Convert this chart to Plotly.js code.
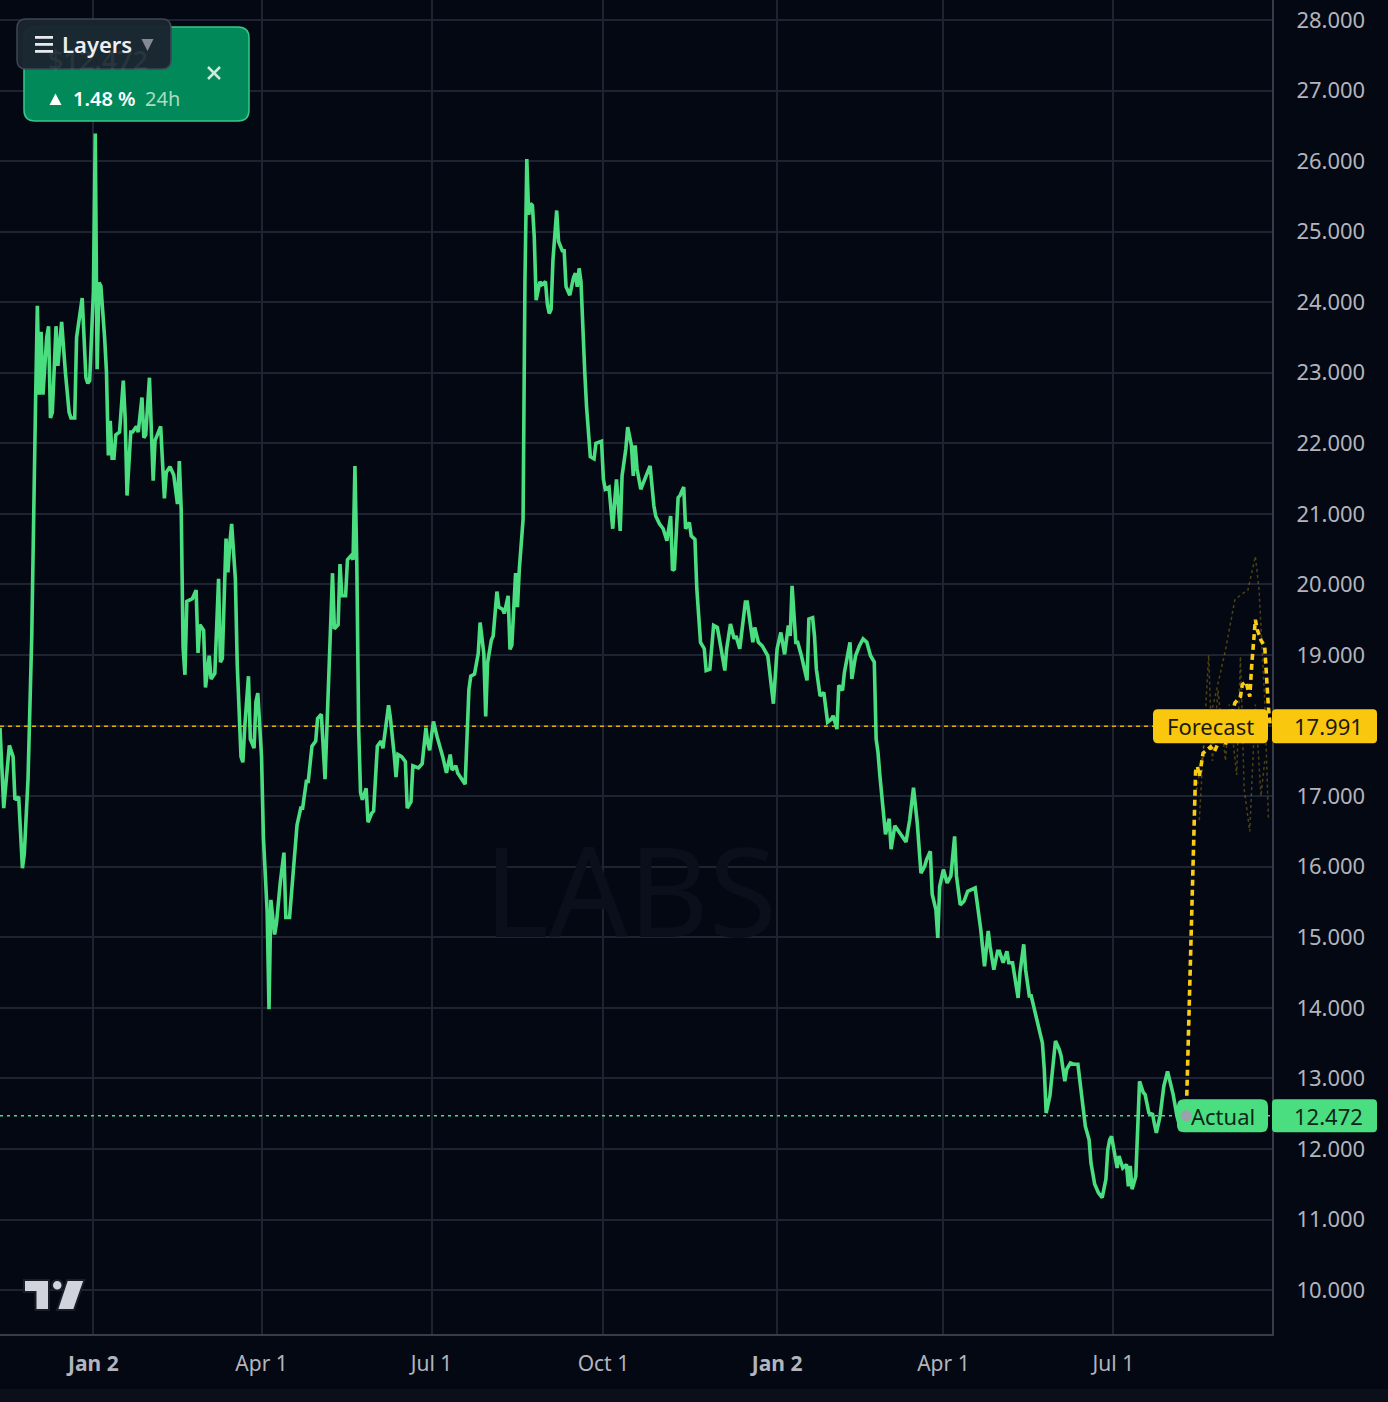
<!DOCTYPE html>
<html>
<head>
<meta charset="utf-8">
<script src="https://cdn.plot.ly/plotly-3.0.1.min.js"></script>
<style>
html,body{margin:0;padding:0;background:#040812;}
#chart{width:1388px;height:1402px;}
</style>
</head>
<body>
<div id="chart"></div>
<script>
// ---------------- DATA ----------------
const startDate = '2023-11-13';           // day 0 of the day offsets below
const priceDays = [0,2,5,7,8,10,12,13,15,17,19,20,21,22,23,25,26,27,28,30,31,33,35,37,38,40,41,44,46,47,48,50,51,52,53,54,56,57,58,59,60,61,62,64,66,67,68,70,71,73,74,76,77,78,80,82,83,85,86,88,89,91,93,95,96,97,98,99,100,103,105,106,107,109,110,112,113,115,117,118,119,121,122,123,124,126,127,129,130,131,133,134,136,137,138,140,141,143,144,145,147,148,150,152,153,155,157,159,161,
162,164,165,167,169,170,172,174,175,177,178,179,181,182,183,185,186,188,189,190,191,192,193,194,196,197,199,200,202,204,205,208,209,211,212,213,215,217,218,220,221,224,226,228,229,230,232,234,236,237,239,241,242,244,245,247,249,251,252,254,256,257,259,260,261,263,264,266,267,269,270,272,273,274,276,277,278,280,281,282,283,284,285,286,287,289,290,292,293,294,295,296,298,299,301,302,303,305,307,308,309,310,311,313,314,316,318,319,322,323,
324,326,327,328,329,330,332,333,335,336,338,339,340,341,343,344,346,348,350,351,353,355,357,359,360,361,363,364,366,367,369,370,372,373,375,377,378,380,382,384,386,388,389,391,393,394,396,399,400,402,403,404,406,408,410,411,414,416,418,420,422,423,424,426,427,429,432,433,435,436,437,439,441,443,445,446,448,449,451,452,455,456,458,460,462,464,466,468,469,470,471,473,474,476,477,479,481,483,485,
487,489,491,493,495,496,498,499,501,502,503,505,507,509,511,512,514,516,518,520,522,525,527,529,530,532,534,535,537,539,540,542,543,545,546,548,549,551,552,554,556,558,559,560,562,564,565,567,568,570,571,573,575,577,579,581,583,584,586,588,590,592,593,594,595,597,598,599,601,603,604,605,606,608,609,610,612,613,615,617,618,619,621,623,625,626,628,630,631,633,635];
const priceValues = [17.97,16.83,17.72,17.56,16.95,16.99,15.98,16.18,17.24,19.27,22.53,23.95,22.69,23.58,22.69,23.5,23.66,22.36,22.44,23.66,23.1,23.72,23.01,22.44,22.36,22.36,23.5,24.06,22.93,22.85,22.89,24.15,26.39,23.05,24.28,24.23,23.5,23.01,21.83,22.32,21.79,21.79,22.12,22.16,22.89,22.36,21.26,22.16,22.16,22.24,22.16,22.65,22.08,22.12,22.93,21.47,22.04,22.2,22.24,21.22,21.59,21.67,21.55,21.14,21.75,21.06,19.11,18.72,19.76,19.8,19.92,19.03,19.43,19.35,18.54,18.99,18.66,18.74,20.08,18.9,18.95,20.65,20.17,20.57,20.86,20.08,18.86,17.56,17.48,17.97,18.7,17.81,17.68,18.34,18.46,17.56,16.42,15.37,13.98,15.53,15.04,15.2,15.77,16.2,15.28,15.28,16.02,16.59,16.83,
16.83,17.21,17.21,17.71,17.78,18.1,18.16,17.24,17.94,19.21,20.16,19.37,19.43,20.29,19.84,19.84,20.35,20.41,20.35,21.68,20.29,17.94,17.05,16.95,17.11,16.63,16.76,16.79,17.71,17.78,17.68,18.29,18.1,17.59,17.27,17.59,17.56,17.49,16.83,16.92,17.43,17.4,17.46,17.97,17.75,17.65,18.06,17.84,17.68,17.56,17.33,17.59,17.37,17.43,17.33,17.24,17.17,18.51,18.7,18.73,19.02,19.46,19.02,18.13,18.89,19.21,19.27,19.9,19.68,19.65,19.59,19.84,19.08,19.14,20.16,19.68,20.22,20.92,24.29,26.03,25.24,25.4,25.37,24.92,24.03,24.29,24.25,24.29,23.97,23.84,23.9,24.6,25.3,24.86,24.73,24.73,24.22,24.1,24.35,24.41,24.22,24.48,24.29,23.02,22.51,21.81,21.78,22.0,22.03,21.49,
21.35,21.38,21.12,20.79,21.16,21.49,20.76,21.54,21.92,22.23,21.97,21.54,21.97,21.64,21.35,21.42,21.57,21.68,21.12,20.97,20.86,20.79,20.62,20.97,20.2,20.22,21.23,21.26,21.38,20.79,20.88,20.69,20.64,19.94,19.18,19.09,18.78,18.8,19.42,19.39,19.09,18.78,19.09,19.44,19.23,19.27,19.09,19.75,19.75,19.37,19.18,19.39,19.18,19.13,19.04,18.99,18.31,19.09,19.32,19.01,19.42,19.27,19.98,19.18,19.18,18.99,18.64,19.51,19.53,19.27,18.8,18.42,18.47,18.05,18.09,18.14,17.95,18.57,18.5,18.75,19.18,18.66,18.99,19.13,19.23,19.18,18.99,18.9,17.81,17.62,17.29,16.77,16.46,16.68,16.25,16.58,16.51,16.44,16.35,
16.67,17.12,16.62,15.91,16.01,16.1,16.22,15.61,15.39,14.99,15.72,15.96,15.77,15.87,16.43,15.87,15.46,15.51,15.65,15.68,15.7,15.11,14.59,15.09,14.87,14.54,14.8,14.8,14.64,14.8,14.64,14.64,14.45,14.14,14.5,14.9,14.54,14.17,14.17,13.93,13.74,13.5,13.13,12.51,12.75,13.22,13.53,13.41,13.32,12.96,13.13,13.22,13.2,13.2,12.75,12.32,12.13,11.8,11.5,11.38,11.31,11.57,11.99,12.13,12.18,11.85,11.73,11.9,11.73,11.78,11.47,11.76,11.43,11.61,12.42,12.96,12.8,12.77,12.51,12.49,12.35,12.23,12.47,12.89,13.1,12.98,12.77,12.47,12.37,12.44,12.472];

const forecastDays   = [635,636,637,638,639,640,641,642,644,646,648,650,653,656,658,661,664,665,667,669,670,671,672,673,675,677,678,679,680];
const forecastValues = [12.472,13.4,14.4,15.5,16.6,17.35,17.42,17.28,17.61,17.66,17.7,17.63,17.8,17.73,17.99,18.32,18.41,18.58,18.62,18.41,18.84,19.26,19.5,19.36,19.21,19.12,18.6,18.25,17.991];

const pathADays   = [640,645,650,656,661,664,668,672,674,677,679];
const pathAValues = [17.0,17.8,18.36,19.07,19.78,19.85,19.92,20.4,19.92,18.36,16.66];
const pathBDays   = [642,647,649,652,656,658,662,664,666,669,672,675,677];
const pathBValues = [16.66,19.0,17.5,18.5,17.5,18.3,17.3,18.98,17.1,16.5,18.3,17.0,17.5];

const actualValue   = 12.472;
const forecastValue = 17.991;
const xTickDates  = ['2024-01-02','2024-04-01','2024-07-01','2024-10-01','2025-01-02','2025-04-01','2025-07-01'];
const xTickLabels = ['Jan 2','Apr 1','Jul 1','Oct 1','Jan 2','Apr 1','Jul 1'];
const xTickYearStart = [true,false,false,false,true,false,false];
const cardPrice  = '$12.472';
const cardChange = '1.48 %';
const cardPeriod = '24h';

// ---------------- HELPERS ----------------
const DAY = 86400000;
const t0 = Date.parse(startDate + 'T00:00:00Z');
function toDate(d){ return new Date(t0 + d*DAY).toISOString().slice(0,19).replace('T',' '); }

const FIG_W = 1388, FIG_H = 1402;
const M = {l:0, r:116, t:0, b:68};
const PW = FIG_W - M.l - M.r, PH = FIG_H - M.t - M.b;
const Y_MIN = 9.378, Y_MAX = 28.283;
const X_END_DAYS = 680.9;
const px = x => x / PW;
const py = y => 1 - y / PH;
const yPix = v => PH * (1 - (v - Y_MIN) / (Y_MAX - Y_MIN));
function rr(x0,y0,x1,y1,r){
  return `M${px(x0+r)},${py(y0)} L${px(x1-r)},${py(y0)} Q${px(x1)},${py(y0)} ${px(x1)},${py(y0+r)} `+
         `L${px(x1)},${py(y1-r)} Q${px(x1)},${py(y1)} ${px(x1-r)},${py(y1)} `+
         `L${px(x0+r)},${py(y1)} Q${px(x0)},${py(y1)} ${px(x0)},${py(y1-r)} `+
         `L${px(x0)},${py(y0+r)} Q${px(x0)},${py(y0)} ${px(x0+r)},${py(y0)} Z`;
}
function poly(pts){ return 'M' + pts.map(p => px(p[0]) + ',' + py(p[1])).join(' L') + ' Z'; }

const FONT = '"Noto Sans", "Open Sans", sans-serif';
const GREEN = '#4ade80', YELLOW = '#f9c80e', BG = '#040812';
const fullRange = [toDate(0), toDate(X_END_DAYS)];

// ---------------- TRACES ----------------
const traces = [
  // price level lines (under the series)
  {x: fullRange, y:[forecastValue, forecastValue], type:'scatter', mode:'lines',
   line:{color:'#e0b208', width:1.6, dash:'4px,4px'}, hoverinfo:'skip'},
  {x: fullRange, y:[actualValue, actualValue], type:'scatter', mode:'lines',
   line:{color:GREEN, width:1.6, dash:'3px,4px'}, hoverinfo:'skip'},
  // faint alternative forecast paths
  {x: pathADays.map(toDate), y: pathAValues, type:'scatter', mode:'lines',
   line:{color:'rgba(249,200,14,0.30)', width:1.5, dash:'dot'}, hoverinfo:'skip'},
  {x: pathBDays.map(toDate), y: pathBValues, type:'scatter', mode:'lines',
   line:{color:'rgba(249,200,14,0.30)', width:1.5, dash:'dot'}, hoverinfo:'skip'},
  // actual price
  {x: priceDays.map(toDate), y: priceValues, type:'scatter', mode:'lines',
   line:{color:GREEN, width:3.6}, name:'Actual'},
  // forecast
  {x: forecastDays.map(toDate), y: forecastValues, type:'scatter', mode:'lines',
   line:{color:'#facc15', width:3.6, dash:'6px,4px'}, name:'Forecast'}
];

// ---------------- SHAPES ----------------
const yF = yPix(forecastValue), yA = yPix(actualValue);
const shapes = [
  // forecast label boxes
  {type:'path', xref:'paper', yref:'paper', path: rr(1153, yF-17, 1268, yF+17, 5), fillcolor:YELLOW, line:{width:0}, layer:'above'},
  {type:'path', xref:'paper', yref:'paper', path: rr(1272, yF-17, 1377, yF+17, 4), fillcolor:YELLOW, line:{width:0}, layer:'above'},
  // actual label boxes
  {type:'path', xref:'paper', yref:'paper', path: rr(1177, yA-16.5, 1268, yA+16.5, 7), fillcolor:GREEN, line:{width:0}, layer:'above'},
  {type:'path', xref:'paper', yref:'paper', path: rr(1272, yA-16.5, 1377, yA+16.5, 4), fillcolor:GREEN, line:{width:0}, layer:'above'},
  // grey dot at the last actual point
  {type:'circle', xref:'x', yref:'y', xsizemode:'pixel', ysizemode:'pixel',
   xanchor: toDate(priceDays[priceDays.length-1]), yanchor: actualValue,
   x0:-5.5, x1:5.5, y0:-5.5, y1:5.5, fillcolor:'#9ca1ab', line:{width:0}, layer:'above'},
  // top-left card
  {type:'path', xref:'paper', yref:'paper', path: rr(24,27,249,121,11), fillcolor:'#02895a', line:{color:'#36c88a', width:1.5}, layer:'above'},
  // close "x"
  {type:'line', xref:'paper', yref:'paper', x0:px(208), y0:py(67), x1:px(220), y1:py(79), line:{color:'#cfe8dc', width:2.5}, layer:'above'},
  {type:'line', xref:'paper', yref:'paper', x0:px(220), y0:py(67), x1:px(208), y1:py(79), line:{color:'#cfe8dc', width:2.5}, layer:'above'},
  // Layers button
  {type:'path', xref:'paper', yref:'paper', path: rr(17,19,171,69,9), fillcolor:'rgba(27,37,47,0.97)', line:{color:'#3d4756', width:1.5}, layer:'above'},
  {type:'rect', xref:'paper', yref:'paper', x0:px(35), x1:px(53), y0:py(36), y1:py(38.8), fillcolor:'#e6e8eb', line:{width:0}, layer:'above'},
  {type:'rect', xref:'paper', yref:'paper', x0:px(35), x1:px(53), y0:py(43), y1:py(45.8), fillcolor:'#e6e8eb', line:{width:0}, layer:'above'},
  {type:'rect', xref:'paper', yref:'paper', x0:px(35), x1:px(53), y0:py(50), y1:py(52.8), fillcolor:'#e6e8eb', line:{width:0}, layer:'above'},
  // dropdown triangle
  {type:'path', xref:'paper', yref:'paper', path: poly([[141.5,39],[153.5,39],[147.5,51]]), fillcolor:'#858b96', line:{width:0}, layer:'above'},
  // up triangle in the card
  {type:'path', xref:'paper', yref:'paper', path: poly([[49.5,105],[61.5,105],[55.5,93.5]]), fillcolor:'#ffffff', line:{width:0}, layer:'above'},
  // TradingView logo
  {type:'path', xref:'paper', yref:'paper', path: poly([[24,1280],[49,1280],[49,1310],[35.5,1310],[35.5,1292],[24,1292]]), fillcolor:'#d1d4dc', line:{color:'#1a1e28', width:2}, layer:'above'},
  {type:'circle', xref:'paper', yref:'paper', x0:px(52), x1:px(62.5), y0:py(1280), y1:py(1290.5), fillcolor:'#d1d4dc', line:{color:'#1a1e28', width:2}, layer:'above'},
  {type:'path', xref:'paper', yref:'paper', path: poly([[67,1280],[84.5,1280],[74,1310],[57,1310]]), fillcolor:'#d1d4dc', line:{color:'#1a1e28', width:2}, layer:'above'},
  // bottom strip
  {type:'rect', xref:'paper', yref:'paper', x0:0, x1:px(FIG_W), y0:py(1389), y1:py(FIG_H+2), fillcolor:'#0b0f1a', line:{width:0}, layer:'above'}
];

// ---------------- ANNOTATIONS ----------------
const ann = (x, y, text, size, color, extra) => Object.assign({
  xref:'paper', yref:'paper', x:px(x), y:py(y), text:text, showarrow:false,
  xanchor:'center', yanchor:'middle', font:{family:FONT, size:size, color:color}
}, extra || {});

const annotations = [
  ann(630, 888, 'LABS', 124, '#0a0f1b', {font:{family:FONT, size:124, color:'#0a0f1b', weight:400}}),
  ann(1210.5, yF, 'Forecast', 22, '#1d1a0c'),
  ann(1328, yF, forecastValue.toFixed(3), 22, '#1d1a0c'),
  ann(1223, yA, 'Actual', 22, '#10261a'),
  ann(1328, yA, actualValue.toFixed(3), 22, '#10261a'),
  ann(46, 60, cardPrice, 27, 'rgba(255,255,255,0.07)', {xanchor:'left', font:{family:FONT, size:27, color:'rgba(255,255,255,0.07)', weight:600}}),
  ann(60, 44, 'Layers', 22, '#eceef1', {xanchor:'left', font:{family:FONT, size:22, color:'#eceef1', weight:600}}),
  ann(71, 99, cardChange, 20, '#ffffff', {xanchor:'left', font:{family:FONT, size:20, color:'#ffffff', weight:600}}),
  ann(143, 99, cardPeriod, 20, '#a8dcc3', {xanchor:'left'})
];

// ---------------- LAYOUT ----------------
const layout = {
  width: FIG_W, height: FIG_H,
  margin: M,
  paper_bgcolor: BG, plot_bgcolor: BG,
  showlegend: false,
  font: {family: FONT, color:'#b2b5be'},
  xaxis: {
    type:'date', range: fullRange,
    tickmode:'array', tickvals:xTickDates,
    ticktext: xTickLabels.map((t,i) => xTickYearStart[i] ? '<b>' + t + '</b>' : t),
    tickfont:{family:FONT, size:21, color:'#b2b5be'},
    showgrid:true, gridcolor:'#1d2331', gridwidth:2,
    showline:true, linecolor:'#363c4a', linewidth:2,
    zeroline:false, ticks:'', ticklabelstandoff:10, fixedrange:true
  },
  yaxis: {
    side:'right', range:[Y_MIN, Y_MAX],
    tickmode:'linear', tick0:10, dtick:1, tickformat:'.3f',
    tickfont:{family:FONT, size:22, color:'#b2b5be'},
    showgrid:true, gridcolor:'#1d2331', gridwidth:2,
    showline:true, linecolor:'#363c4a', linewidth:2,
    zeroline:false, ticks:'', ticklabelstandoff:18, fixedrange:true
  },
  shapes: shapes,
  annotations: annotations
};

Plotly.newPlot('chart', traces, layout, {staticPlot:true, displayModeBar:false});
</script>
</body>
</html>
